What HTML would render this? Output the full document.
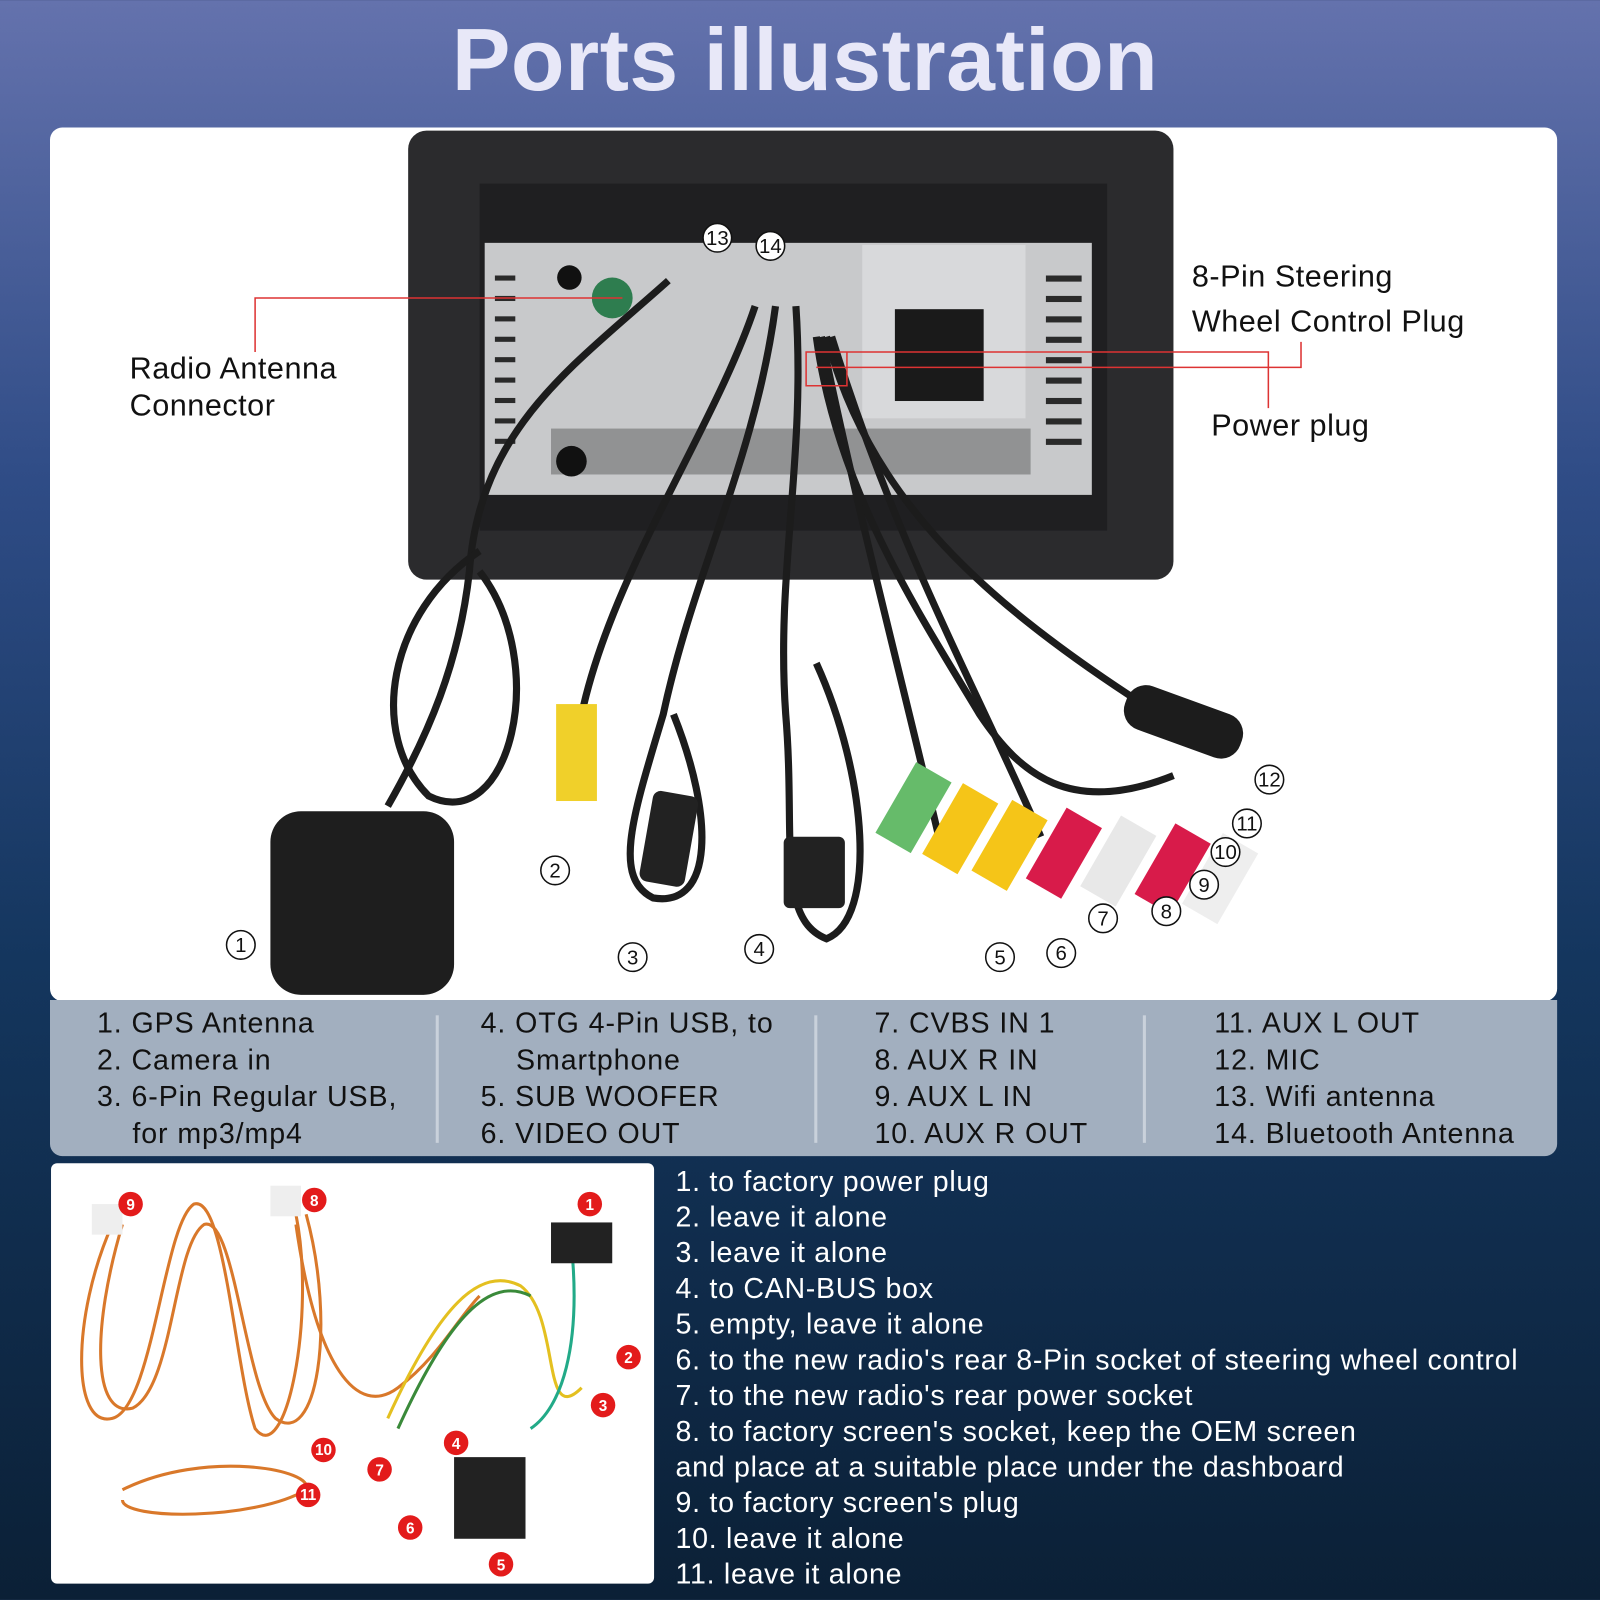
<!DOCTYPE html>
<html><head><meta charset="utf-8"><style>
*{margin:0;padding:0;box-sizing:border-box}
html,body{width:1600px;height:1600px;overflow:hidden}
body{font-family:"Liberation Sans",sans-serif;
background:linear-gradient(180deg,#6472ad 0%,#2f4c86 30%,#14365e 60%,#0b2036 100%);position:relative}
#w{position:absolute;left:0;top:0;width:1568px;height:1568px;transform:scale(1.0204);transform-origin:0 0}
.t{position:absolute;white-space:nowrap}
.title{left:0;width:1578px;text-align:center;top:10px;font-size:86px;font-weight:bold;color:#e8e8f8;letter-spacing:0.5px}
.panel{position:absolute;left:49px;top:125px;width:1477px;height:856px;background:#fff;border-radius:12px}
.leg{position:absolute;left:49px;top:980px;width:1477px;height:153px;background:#a2afbf;border-radius:0 0 12px 12px}
.lt{font-size:28px;color:#111;line-height:36px;letter-spacing:0.9px}
.div{position:absolute;top:995px;width:3px;height:125px;background:#c9d1db}
.bp{position:absolute;left:50px;top:1140px;width:591px;height:412px;background:#fff;border-radius:6px}
.rl{font-size:28px;color:#fff;line-height:35px;letter-spacing:0.7px}
.lab{font-size:30px;color:#111;line-height:36px;letter-spacing:0.5px}
</style></head><body><div id="w">
<div class="t title">Ports illustration</div>
<div class="panel"></div>
<svg style="position:absolute;left:0;top:0" width="1600" height="1000">
<rect x="400" y="128" width="750" height="440" rx="18" fill="#2b2b2d"/>
<rect x="470" y="180" width="615" height="340" fill="#1f1f21"/>
<rect x="475" y="238" width="595" height="247" fill="#c8c9cb"/>
<rect x="845" y="240" width="160" height="170" fill="#d8d9db"/>
<rect x="877" y="303" width="87" height="90" fill="#1a1a1a"/>
<g fill="#2a2a2a">
<rect x="485" y="270" width="20" height="5"/><rect x="485" y="290" width="20" height="5"/><rect x="485" y="310" width="20" height="5"/><rect x="485" y="330" width="20" height="5"/><rect x="485" y="350" width="20" height="5"/><rect x="485" y="370" width="20" height="5"/><rect x="485" y="390" width="20" height="5"/><rect x="485" y="410" width="20" height="5"/><rect x="485" y="430" width="20" height="5"/>
<rect x="1025" y="270" width="35" height="6"/><rect x="1025" y="290" width="35" height="6"/><rect x="1025" y="310" width="35" height="6"/><rect x="1025" y="330" width="35" height="6"/><rect x="1025" y="350" width="35" height="6"/><rect x="1025" y="370" width="35" height="6"/><rect x="1025" y="390" width="35" height="6"/><rect x="1025" y="410" width="35" height="6"/><rect x="1025" y="430" width="35" height="6"/>
<rect x="540" y="420" width="470" height="45" opacity=".35"/>
</g>
<circle cx="558" cy="272" r="12" fill="#111"/><circle cx="600" cy="292" r="20" fill="#2e7d4f"/>
<circle cx="560" cy="452" r="15" fill="#111"/>
<g fill="none" stroke="#1c1c1c" stroke-width="7">
<path d="M655 275 C560 360 470 420 460 560 C450 650 420 720 380 790"/>
<path d="M740 300 C700 420 600 560 570 700"/>
<path d="M760 300 C740 450 680 560 650 700 C620 800 600 860 640 880 C700 890 700 800 660 700"/>
<path d="M780 300 C790 450 760 560 770 700 C780 820 760 900 810 920 C860 900 850 760 800 650"/>
<path d="M800 330 C820 480 900 600 960 700 C1000 760 1050 800 1150 760"/>
<path d="M810 330 C850 480 950 580 1120 690"/>
<path d="M805 330 C840 500 880 650 920 820"/>
<path d="M815 330 C880 540 960 680 1020 820"/>
<path d="M470 540 C380 600 360 720 420 780 C500 820 540 650 470 560"/>
</g>
<rect x="265" y="795" width="180" height="180" rx="30" fill="#1e1e1e"/>
<rect x="545" y="690" width="40" height="95" fill="#f0d02a"/>
<rect x="610" y="800" width="90" height="45" rx="8" fill="#222" transform="rotate(-80 655 822)"/>
<rect x="768" y="820" width="60" height="70" rx="6" fill="#222"/>
<rect x="1100" y="685" width="120" height="45" rx="20" fill="#1c1c1c" transform="rotate(20 1160 707)"/>
<g transform="rotate(30 1000 800)">
<rect x="885" y="805" width="40" height="80" fill="#66bb6a"/><rect x="935" y="800" width="40" height="80" fill="#f5c518"/><rect x="985" y="790" width="40" height="80" fill="#f5c518"/><rect x="1035" y="770" width="40" height="80" fill="#d81b4a"/><rect x="1085" y="750" width="40" height="80" fill="#e8e8e8"/><rect x="1135" y="730" width="40" height="80" fill="#d81b4a"/><rect x="1180" y="715" width="40" height="80" fill="#eee"/>
</g>
<g stroke="#d33" stroke-width="1.5" fill="none">
<path d="M250 345 V292 H610"/><path d="M1275 335 V360 H800"/><path d="M1243 400 V345 H790 V378 H830 V345"/>
</g>
<g fill="#fff" stroke="#111" stroke-width="1.5">
<circle cx="703" cy="233" r="14"/><circle cx="755" cy="241" r="14"/><circle cx="236" cy="926" r="14"/><circle cx="544" cy="853" r="14"/><circle cx="620" cy="938" r="14"/><circle cx="744" cy="930" r="14"/><circle cx="980" cy="938" r="14"/><circle cx="1040" cy="934" r="14"/><circle cx="1081" cy="900" r="14"/><circle cx="1143" cy="893" r="14"/><circle cx="1180" cy="867" r="14"/><circle cx="1201" cy="835" r="14"/><circle cx="1222" cy="807" r="14"/><circle cx="1244" cy="764" r="14"/>
</g>
<g font-family="Liberation Sans" font-size="20" text-anchor="middle" fill="#111">
<text x="703" y="240">13</text><text x="755" y="248">14</text><text x="236" y="933">1</text><text x="544" y="860">2</text><text x="620" y="945">3</text><text x="744" y="937">4</text><text x="980" y="945">5</text><text x="1040" y="941">6</text><text x="1081" y="907">7</text><text x="1143" y="900">8</text><text x="1180" y="874">9</text><text x="1201" y="842">10</text><text x="1222" y="814">11</text><text x="1244" y="771">12</text>
</g>
</svg>
<div class="t lab" style="left:127px;top:344px">Radio Antenna<br>Connector</div>
<div class="t lab" style="left:1168px;top:250px;line-height:44px">8-Pin Steering<br>Wheel Control Plug</div>
<div class="t lab" style="left:1187px;top:400px">Power plug</div>
<div class="leg"></div>
<div class="div" style="left:427px"></div><div class="div" style="left:798px"></div><div class="div" style="left:1120px"></div>
<div class="t lt" style="left:95px;top:985px">1. GPS Antenna<br>2. Camera in<br>3. 6-Pin Regular USB,<br>&nbsp;&nbsp;&nbsp;&nbsp;for mp3/mp4</div>
<div class="t lt" style="left:471px;top:985px">4. OTG 4-Pin USB, to<br>&nbsp;&nbsp;&nbsp;&nbsp;Smartphone<br>5. SUB WOOFER<br>6. VIDEO OUT</div>
<div class="t lt" style="left:857px;top:985px">7. CVBS IN 1<br>8. AUX R IN<br>9. AUX L IN<br>10. AUX R OUT</div>
<div class="t lt" style="left:1190px;top:985px">11. AUX L OUT<br>12. MIC<br>13. Wifi antenna<br>14. Bluetooth Antenna</div>
<div class="bp"></div>
<svg style="position:absolute;left:50px;top:1140px" width="591" height="412">
<g fill="none" stroke="#d9782a" stroke-width="3">
<path d="M60 60 C20 150 20 260 60 250 C100 240 110 60 140 40 C170 30 180 200 200 260 C230 300 260 150 240 50"/>
<path d="M70 60 C40 160 40 250 80 240 C120 220 120 80 150 60 C180 50 190 220 220 250 C260 280 280 160 250 50"/>
<path d="M240 60 C260 200 300 250 340 220 C380 190 400 150 420 130"/>
<path d="M70 320 C150 280 260 300 250 320 C200 350 70 350 70 330"/>
</g>
<g fill="none" stroke-width="3"><path d="M330 250 C380 140 420 100 460 120 C500 150 480 260 520 220" stroke="#e4c020"/><path d="M340 260 C390 150 430 110 470 130" stroke="#3a8a3a"/><path d="M510 80 C520 180 500 240 470 260" stroke="#2a8"/></g>
<rect x="490" y="58" width="60" height="40" fill="#222"/><rect x="395" y="288" width="70" height="80" fill="#222"/>
<rect x="40" y="40" width="30" height="30" fill="#eee"/><rect x="215" y="22" width="30" height="30" fill="#eee"/>
<g fill="#e31b1b"><circle cx="78" cy="40" r="12"/><circle cx="258" cy="36" r="12"/><circle cx="528" cy="40" r="12"/><circle cx="566" cy="190" r="12"/><circle cx="541" cy="237" r="12"/><circle cx="397" cy="274" r="12"/><circle cx="267" cy="281" r="12"/><circle cx="322" cy="300" r="12"/><circle cx="252" cy="325" r="12"/><circle cx="352" cy="357" r="12"/><circle cx="441" cy="393" r="12"/></g>
<g font-family="Liberation Sans" font-size="15" font-weight="bold" fill="#fff" text-anchor="middle"><text x="78" y="46">9</text><text x="258" y="42">8</text><text x="528" y="46">1</text><text x="566" y="196">2</text><text x="541" y="243">3</text><text x="397" y="280">4</text><text x="267" y="286">10</text><text x="322" y="306">7</text><text x="252" y="330">11</text><text x="352" y="363">6</text><text x="441" y="399">5</text></g>
</svg>
<div class="t rl" style="left:662px;top:1140px">1. to factory power plug<br>2. leave it alone<br>3. leave it alone<br>4. to CAN-BUS box<br>5. empty, leave it alone<br>6. to the new radio's rear 8-Pin socket of steering wheel control<br>7. to the new radio's rear power socket<br>8. to factory screen's socket, keep the OEM screen<br>and place at a suitable place under the dashboard<br>9. to factory screen's plug<br>10. leave it alone<br>11. leave it alone</div>
</div></body></html>
